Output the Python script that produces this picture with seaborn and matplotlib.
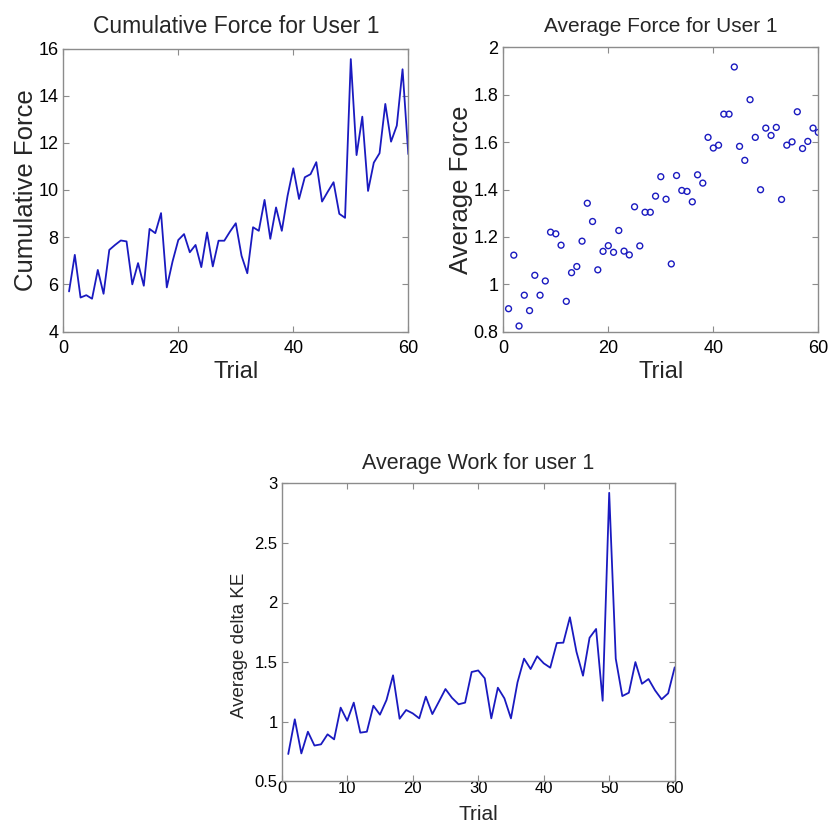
import numpy as np
import pandas as pd
import matplotlib
matplotlib.use("Agg")
import matplotlib.pyplot as plt
import seaborn as sns

trials = list(range(1, 61))

cumulative_force = [5.70, 7.25, 5.44, 5.54, 5.39, 6.61, 5.60, 7.46, 7.67, 7.86,
                    7.82, 6.00, 6.90, 5.94, 8.35, 8.17, 9.02, 5.87, 6.97, 7.88,
                    8.13, 7.36, 7.67, 6.73, 8.20, 6.76, 7.85, 7.85, 8.24, 8.59,
                    7.21, 6.47, 8.42, 8.27, 9.58, 7.93, 9.26, 8.27, 9.75, 10.92,
                    9.62, 10.54, 10.67, 11.18, 9.51, 9.93, 10.33, 8.99, 8.82, 15.55,
                    11.48, 13.11, 9.96, 11.16, 11.56, 13.65, 12.05, 12.73, 15.12, 11.52]

average_force = [0.897, 1.123, 0.824, 0.954, 0.889, 1.038, 0.954, 1.014, 1.220, 1.213,
                 1.165, 0.928, 1.049, 1.075, 1.182, 1.342, 1.265, 1.061, 1.139, 1.163,
                 1.135, 1.227, 1.140, 1.124, 1.327, 1.162, 1.304, 1.304, 1.372, 1.454,
                 1.359, 1.086, 1.459, 1.396, 1.392, 1.348, 1.462, 1.427, 1.620, 1.575,
                 1.587, 1.718, 1.718, 1.917, 1.582, 1.523, 1.779, 1.620, 1.399, 1.659,
                 1.628, 1.662, 1.358, 1.587, 1.601, 1.728, 1.573, 1.603, 1.659, 1.641]

average_work = [0.729, 1.020, 0.734, 0.916, 0.800, 0.810, 0.894, 0.852, 1.118, 1.008,
                1.160, 0.908, 0.916, 1.134, 1.059, 1.182, 1.389, 1.025, 1.098, 1.070,
                1.028, 1.210, 1.064, 1.168, 1.274, 1.200, 1.146, 1.160, 1.417, 1.430,
                1.364, 1.028, 1.285, 1.196, 1.028, 1.330, 1.529, 1.442, 1.549, 1.490,
                1.453, 1.660, 1.663, 1.876, 1.587, 1.386, 1.704, 1.778, 1.176, 2.920,
                1.529, 1.215, 1.243, 1.500, 1.318, 1.358, 1.263, 1.188, 1.238, 1.456]

df = pd.DataFrame({"Trial": trials, "cf": cumulative_force,
                   "af": average_force, "aw": average_work})

sns.set_style("white")
plt.rcParams['font.family'] = ['Liberation Sans', 'DejaVu Sans']

BLUE = "#1a1ac0"
SPINE = "#8c8c8c"

fig = plt.figure(figsize=(8.29, 8.24), dpi=100)

W, H = 829.0, 824.0
def rect(l, t, r, b):
    return [l / W, 1 - b / H, (r - l) / W, (b - t) / H]

ax1 = fig.add_axes(rect(63.3, 48.5, 408.3, 331.5))
ax2 = fig.add_axes(rect(503.3, 47.3, 818.3, 331.7))
ax3 = fig.add_axes(rect(281.7, 483.3, 674.7, 781.3))

sns.lineplot(data=df, x="Trial", y="cf", ax=ax1, color=BLUE, linewidth=1.3)
sns.scatterplot(data=df, x="Trial", y="af", ax=ax2, marker="o", s=18,
                facecolor="none", edgecolor=BLUE, linewidth=1.0)
sns.lineplot(data=df, x="Trial", y="aw", ax=ax3, color=BLUE, linewidth=1.3)

def style(ax, ylim, yticks, xticks, tick_fs, title, title_fs, title_pad,
          ylabel, ylabel_fs, ylabel_pad, xlabel_fs, xlabel_pad, xpad, ypad):
    ax.set_xlim(0, 60)
    ax.set_ylim(*ylim)
    ax.set_xticks(xticks)
    ax.set_yticks(yticks)
    ax.set_yticklabels([("%g" % v) for v in yticks])
    for s in ax.spines.values():
        s.set_visible(True)
        s.set_color(SPINE)
        s.set_linewidth(1.0)
    ax.tick_params(direction="in", length=4, width=0.8, color=SPINE,
                   labelsize=tick_fs, labelcolor="black", top=True, right=True,
                   bottom=True, left=True)
    ax.tick_params(axis="x", pad=xpad)
    ax.tick_params(axis="y", pad=ypad)
    ax.set_title(title, fontsize=title_fs, pad=title_pad)
    ax.set_ylabel(ylabel, fontsize=ylabel_fs, labelpad=ylabel_pad)
    ax.set_xlabel("Trial", fontsize=xlabel_fs, labelpad=xlabel_pad)

style(ax1, (4, 16), [4, 6, 8, 10, 12, 14, 16], [0, 20, 40, 60], 13,
      "Cumulative Force for User 1", 16.5, 11,
      "Cumulative Force", 18.5, 0, 17, 3, 6, 3.5)
style(ax2, (0.8, 2), [0.8, 1, 1.2, 1.4, 1.6, 1.8, 2], [0, 20, 40, 60], 13,
      "Average Force for User 1", 15, 11,
      "Average Force", 18.5, 0, 17, 3, 6, 3.5)
style(ax3, (0.5, 3), [0.5, 1, 1.5, 2, 2.5, 3], [0, 10, 20, 30, 40, 50, 60], 12,
      "Average Work for user 1", 15.5, 10,
      "Average delta KE", 13.5, 6, 15, 6, 0, 3)
ax3.yaxis.set_label_coords(-0.085, 0.455)

fig.savefig("out.png", dpi=100, facecolor="white")
